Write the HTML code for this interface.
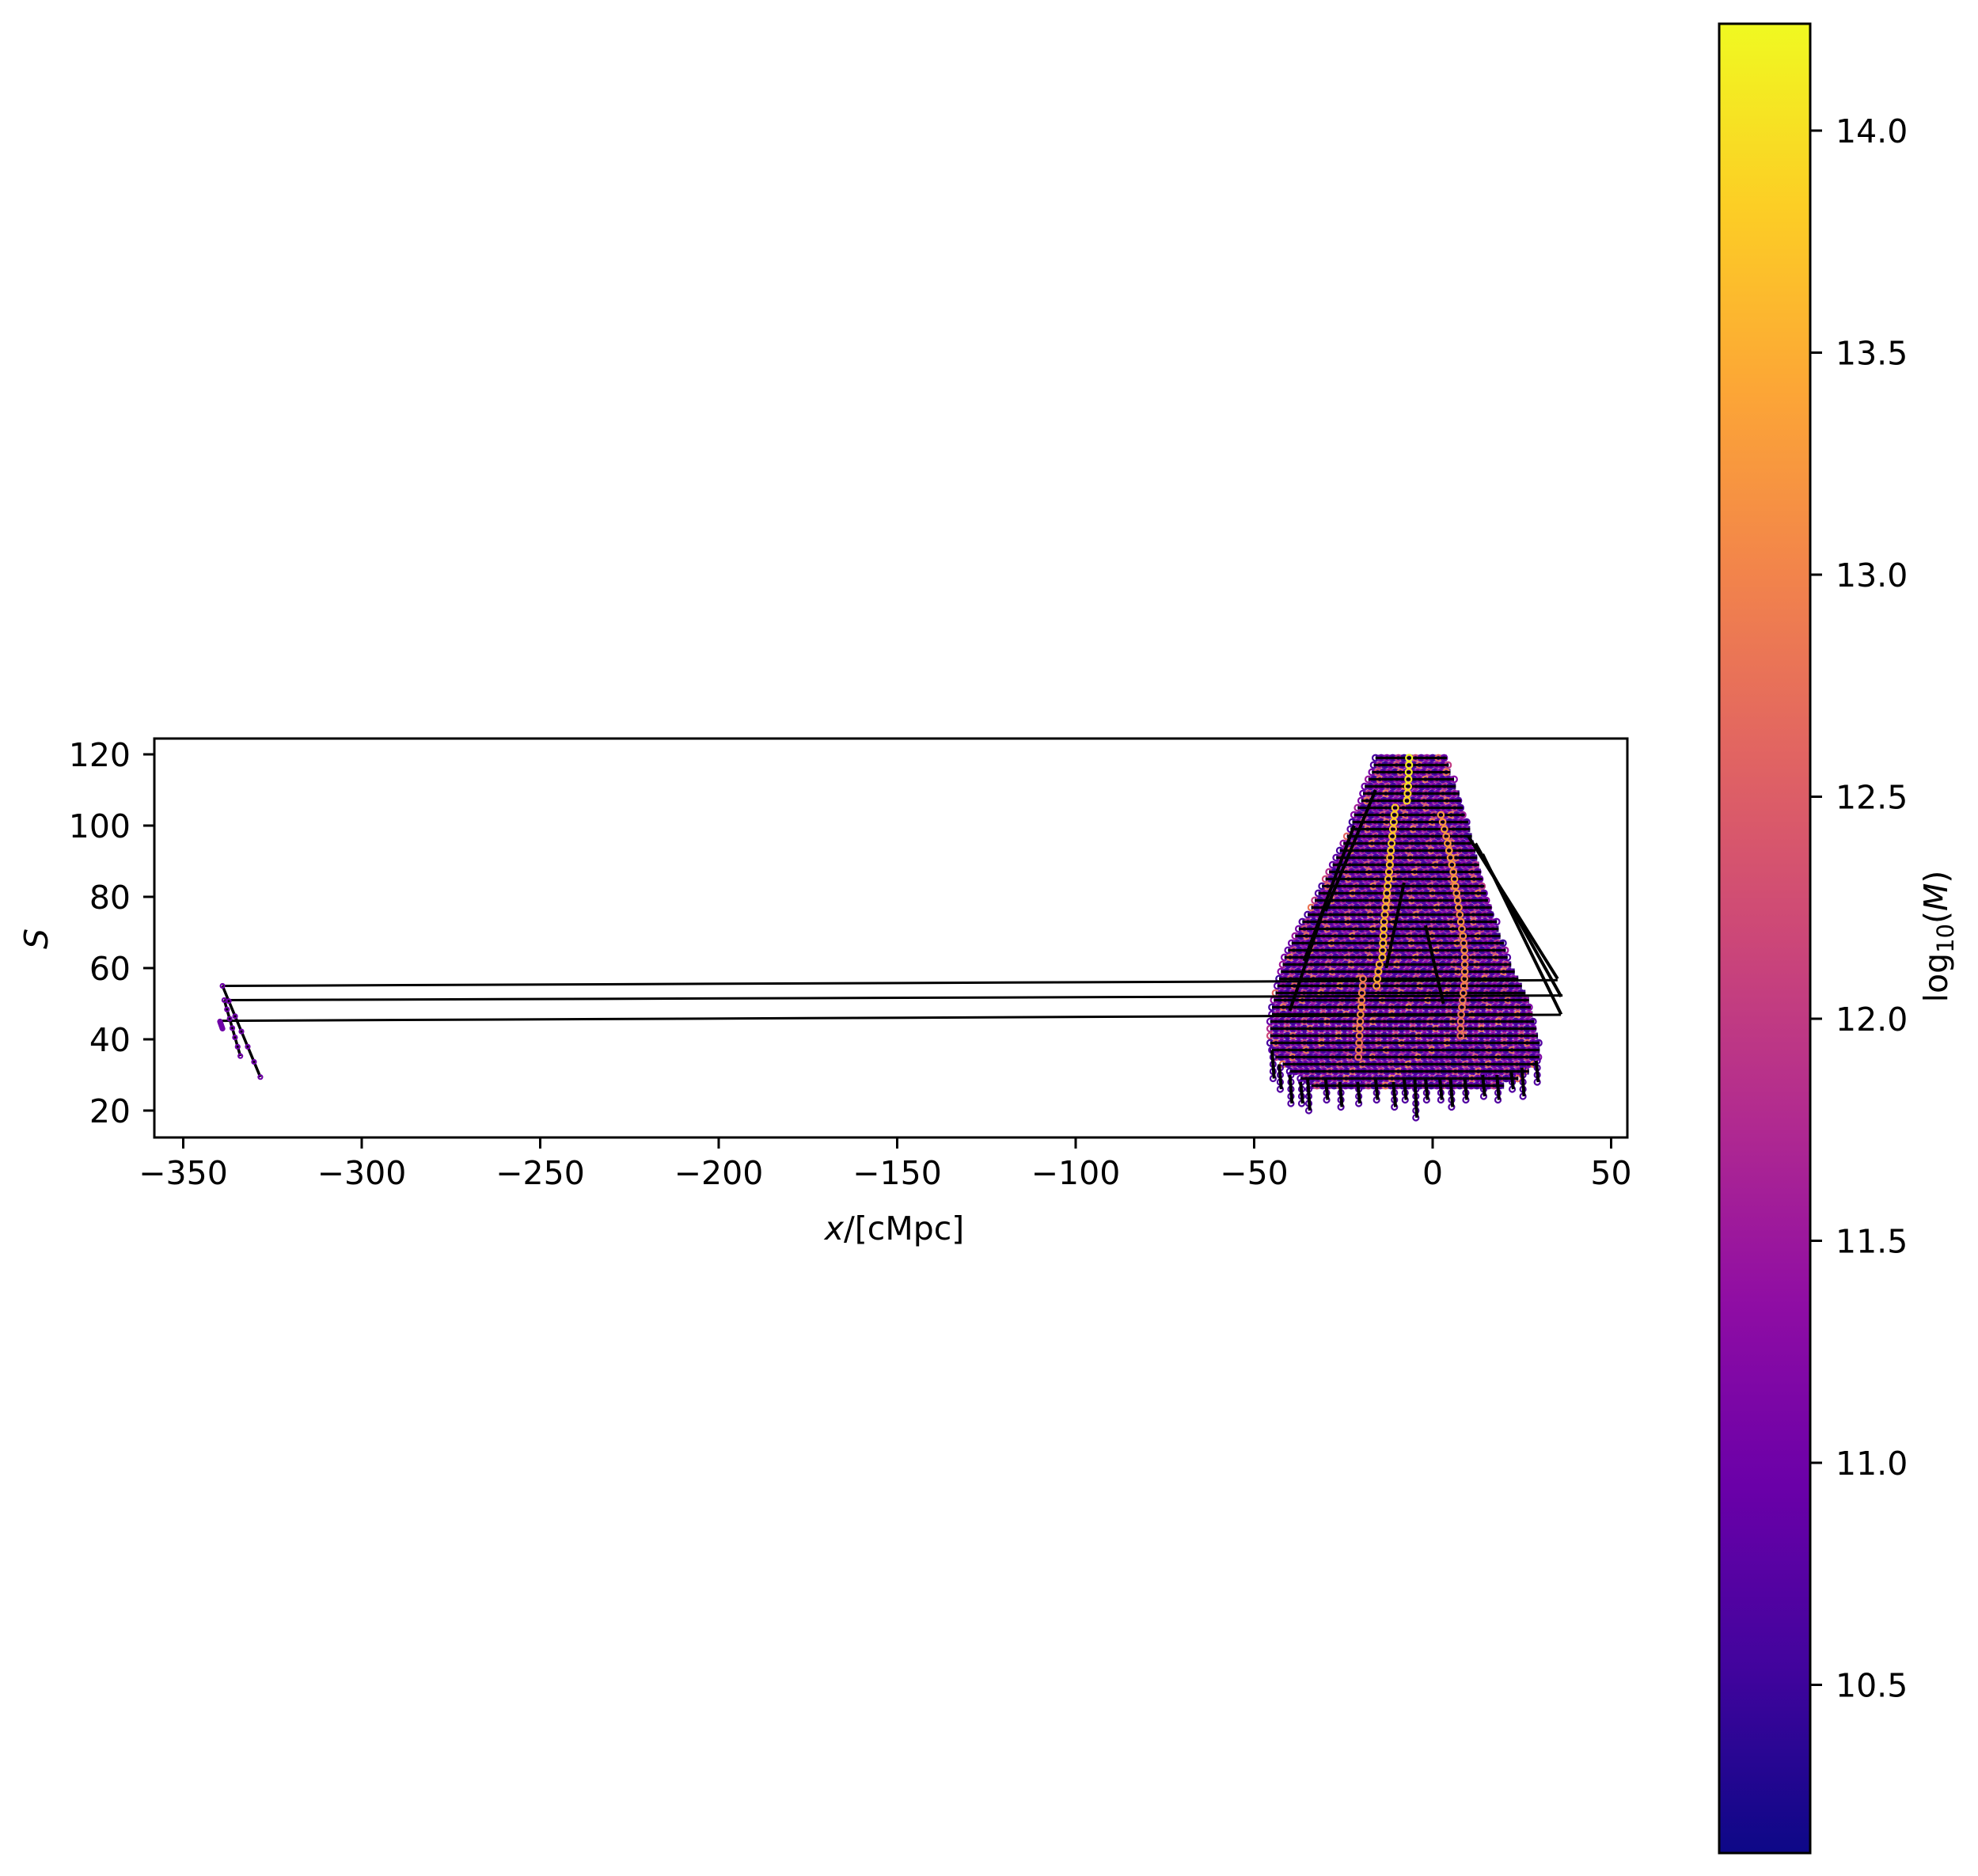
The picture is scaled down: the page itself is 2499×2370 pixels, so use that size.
<!DOCTYPE html>
<html><head><meta charset="utf-8"><style>
html,body{margin:0;padding:0;background:#fff}
svg{display:block}
text{font-family:"DejaVu Sans","Liberation Sans",sans-serif;fill:#000}
</style></head><body>
<svg id="chart" width="2499" height="2370" viewBox="0 0 2499 2370" xmlns="http://www.w3.org/2000/svg">
<defs>
<linearGradient id="plasma" x1="0" y1="1" x2="0" y2="0">
<stop offset="0" stop-color="#0d0887"/><stop offset="0.1" stop-color="#41049d"/><stop offset="0.2" stop-color="#6a00a8"/><stop offset="0.3" stop-color="#8f0da4"/><stop offset="0.4" stop-color="#b12a90"/><stop offset="0.5" stop-color="#cc4778"/><stop offset="0.6" stop-color="#e16462"/><stop offset="0.7" stop-color="#f2844b"/><stop offset="0.8" stop-color="#fca636"/><stop offset="0.9" stop-color="#fcce25"/><stop offset="1" stop-color="#f0f921"/>
</linearGradient>
<clipPath id="plotclip"><rect x="195" y="933" width="1861" height="504"/></clipPath>
</defs>
<g clip-path="url(#plotclip)">
<g id="bands"></g>
<g id="dots"></g>
<g id="lines"></g>
<g id="bright"></g>
</g>
<rect x="195" y="933" width="1861" height="504" fill="none" stroke="#000" stroke-width="3"/>
<g id="axes"></g>
<rect x="2172" y="30" width="115" height="2311" fill="url(#plasma)" stroke="#000" stroke-width="3"/>
<text x="1130" y="1566" font-size="41" text-anchor="middle"><tspan font-style="italic">x</tspan>/[cMpc]</text>
<text x="0" y="0" font-size="41" text-anchor="middle" transform="translate(60,1186) rotate(-90)" font-style="italic">S</text>
<text x="0" y="0" font-size="41" text-anchor="middle" transform="translate(2460,1183) rotate(-90)">log<tspan font-size="29" dy="8">10</tspan><tspan dy="-8">(</tspan><tspan font-style="italic">M</tspan>)</text>
</svg>
<script>
const xTicks=[-350,-300,-250,-200,-150,-100,-50,0,50];
const yTicks=[20,40,60,80,100,120];
const cTicks=[10.5,11.0,11.5,12.0,12.5,13.0,13.5,14.0];
const rowS=[119,117,115,113,111,109,107,105,103,101,99,97,95,93,91,89,87,85,83,81,79,77,75,73,71,69,67,65,63,61,59,57,55,53,51,49,47,45,43,41,39,37,35,33,31,29,27];
const rowXmin=[-16,-16.5,-17,-18,-19,-19.5,-20,-21,-22,-22.5,-23,-24,-25,-26,-27,-28,-29,-30,-31,-32,-33,-34,-35,-36.5,-37.5,-38.5,-39.5,-40.5,-41.5,-42,-42.5,-43,-43.5,-44,-44.5,-45,-45,-45.5,-45.5,-45.5,-45.5,-45,-44,-42,-40,-37,-34];
const rowXmax=[4,4.5,5,6,6.5,7.5,8,8.5,9,10,10.5,11,11.5,12,12.5,13,13.5,14,14.5,15,15.5,16.5,17,18,18.5,19,20,20.5,21,22,23,24,25,26,27,27.5,28,28.5,29,29.5,30,30,30,29,27,24,20];
const massPattern=[10.6,10.9,11.3,10.7,11.8,10.5,11.1,12.2,10.8,11.5,10.6,12.6,11.0,10.7,11.4,10.9,12.0,10.6,11.2,12.8,10.8,11.6];
const yellowS=[119,117,115,113,111,109,107,105,103,101,99,97,95,93,91,89,87,85,83,81,79,77,75,73,71,69,67,65,63,61,59,57,55];
const yellowX=[-6.6,-6.6,-6.7,-6.8,-6.9,-7.0,-7.2,-10.5,-10.7,-10.9,-11.1,-11.3,-11.5,-11.7,-11.9,-12.0,-12.2,-12.4,-12.6,-12.8,-13.0,-13.2,-13.4,-13.6,-13.7,-13.8,-13.9,-14.0,-14.1,-14.9,-15.2,-15.5,-15.7];
const yellowM=[14.2,14.1,14.1,14.0,14.0,13.9,13.9,13.8,13.8,13.8,13.7,13.7,13.7,13.7,13.6,13.6,13.6,13.6,13.6,13.6,13.5,13.5,13.5,13.5,13.6,13.6,13.6,13.6,13.6,13.4,13.4,13.4,13.3];
const orangeS=[103,101,99,97,95,93,91,89,87,85,83,81,79,77,75,73,71,69,67,65,63,61,59,57,55,53,51,49,47,45,43,41];
const orangeX=[2.3,2.8,3.3,3.8,4.2,4.6,5.0,5.4,5.8,6.1,6.4,6.7,7.0,7.3,7.6,7.9,8.2,8.5,8.7,8.9,9.0,9.0,9.0,8.9,8.8,8.6,8.4,8.2,8.0,7.9,7.8,7.8];
const orangeM=[13.2,13.2,13.3,13.2,13.3,13.3,13.2,13.3,13.2,13.3,13.2,13.2,13.1,13.2,13.1,13.2,13.1,13.1,13.0,13.1,13.0,13.0,13.1,13.0,12.9,13.0,12.9,12.9,12.8,12.8,12.8,12.7];
const pinkS=[57,55,53,51,49,47,45,43,41,39,37,35];
const pinkX=[-19.5,-19.6,-19.8,-19.9,-20.0,-20.2,-20.3,-20.4,-20.5,-20.6,-20.7,-20.8];
const pinkM=[12.9,12.9,13.0,13.0,13.1,13.1,13.0,13.0,12.9,12.9,12.8,12.8];
const tailX=[-45,-43,-40,-37,-35,-30,-26,-21,-16,-11,-8,-5,-2,2,5,9,14,18,22,25,29];
const tailTopS=[37,33,30,28,29,29,28,28,29,28,29,29,29,29,29,29,30,30,31,32,34];
const tailEndS=[29,26,22,22,20,23,21,22,23,21,23,18,23,23,21,23,24,23,26,24,28];
const slantX1=[-22,-16,-8,10,12,14,-30,-2];
const slantS1=[100,110,84,97,95,92,78,72];
const slantX2=[-36,-30,-13,35,36,36,-40,3];
const slantS2=[62,76,60,57,52,47,48,50];
const longX1=[-339,-338.5,-339.7];
const longS1=[55,51,45.2];
const longX2=[35,36.4,35.9];
const longS2=[56.6,52.3,46.9];
const sideX1=[-339,-338.5,-339.7];
const sideS1=[55,51,45];
const sideX2=[-328.4,-334,-339];
const sideS2=[29.4,35.3,43];

const NS='http://www.w3.org/2000/svg';
const X=v=>1810+v*4.51;
const Y=v=>1403-(v-20)*4.5;
const C=v=>165+(14-v)*561;
const cmin=10.12,cmax=14.24;
const stops=[[13,8,135],[65,4,157],[106,0,168],[143,13,164],[177,42,144],[204,71,120],[225,100,98],[242,132,75],[252,166,54],[252,206,37],[240,249,33]];
function cmap(v){let t=(v-cmin)/(cmax-cmin);t=Math.max(0,Math.min(1,t))*10;const i=Math.min(9,Math.floor(t)),f=t-i;const a=stops[i],b=stops[i+1];return 'rgb('+a.map((c,k)=>Math.round(c+(b[k]-c)*f)).join(',')+')';}
function mk(tag,attrs,parent){const e=document.createElementNS(NS,tag);for(const k in attrs)e.setAttribute(k,attrs[k]);parent.appendChild(e);return e;}
const bands=document.getElementById('bands'),dots=document.getElementById('dots'),lines=document.getElementById('lines'),bright=document.getElementById('bright'),axes=document.getElementById('axes');
function dot(g,x,s,m,r){const c=mk('circle',{cx:X(x),cy:Y(s),r:r||3.8,fill:'none',stroke:cmap(m),'stroke-width':2.2},g);

}
for(let i=0;i<rowS.length;i++){
  const bg=mk('line',{x1:X(rowXmin[i]),y1:Y(rowS[i]),x2:X(rowXmax[i]),y2:Y(rowS[i]),stroke:'#3a0680','stroke-width':8},bands);
  
  
  let j=0;
  for(let x=rowXmin[i];x<=rowXmax[i];x+=1.6){dot(dots,x,rowS[i],massPattern[(i*3+j)%massPattern.length]);j++;}
  const ln=mk('line',{x1:X(rowXmin[i]),y1:Y(rowS[i]),x2:X(rowXmax[i]),y2:Y(rowS[i]),stroke:'#000','stroke-width':3},lines);
  
  
}
for(let i=0;i<tailX.length;i++){
  const t=mk('line',{x1:X(tailX[i]),y1:Y(tailTopS[i]),x2:X(tailX[i]+0.6),y2:Y(tailEndS[i]),stroke:'#000','stroke-width':4},lines);
  
  
  for(let s=tailEndS[i];s<=tailTopS[i];s+=2)dot(dots,tailX[i]+0.3,s,10.7,3.5);
}
for(let i=0;i<slantX1.length;i++){
  const t=mk('line',{x1:X(slantX1[i]),y1:Y(slantS1[i]),x2:X(slantX2[i]),y2:Y(slantS2[i]),stroke:'#000','stroke-width':4},lines);
  
  
}
for(let i=0;i<longX1.length;i++){
  const l=mk('line',{x1:X(longX1[i]),y1:Y(longS1[i]),x2:X(longX2[i]),y2:Y(longS2[i]),stroke:'#000','stroke-width':3},lines);
  
  
  const s=mk('line',{x1:X(sideX1[i]),y1:Y(sideS1[i]),x2:X(sideX2[i]),y2:Y(sideS2[i]),stroke:'#000','stroke-width':3.5},lines);
  
  
  for(let k=0;k<=6;k++){const f=k/6;dot(bright,sideX1[i]+(sideX2[i]-sideX1[i])*f,sideS1[i]+(sideS2[i]-sideS1[i])*f,11.0,2.5);}
}
for(let i=0;i<pinkS.length;i++)dot(bright,pinkX[i],pinkS[i],pinkM[i],3.8);
for(let i=0;i<orangeS.length;i++)dot(bright,orangeX[i],orangeS[i],orangeM[i],3.8);
for(let i=0;i<yellowS.length;i++)dot(bright,yellowX[i],yellowS[i],yellowM[i],4);
xTicks.forEach(v=>{
  const t=mk('line',{x1:X(v),y1:1437,x2:X(v),y2:1451,stroke:'#000','stroke-width':3},axes);
  
  
  const l=mk('text',{x:X(v),y:1496,'font-size':41,'text-anchor':'middle'},axes);
  l.textContent=(v<0?'\u2212':'')+Math.abs(v);
  
  
});
yTicks.forEach(v=>{
  const t=mk('line',{x1:181,y1:Y(v),x2:195,y2:Y(v),stroke:'#000','stroke-width':3},axes);
  
  
  const l=mk('text',{x:165,y:Y(v)+15,'font-size':41,'text-anchor':'end'},axes);
  l.textContent=v;
  
  
});
cTicks.forEach(v=>{
  const t=mk('line',{x1:2287,y1:C(v),x2:2302,y2:C(v),stroke:'#000','stroke-width':3},axes);
  
  
  const l=mk('text',{x:2319,y:C(v)+15,'font-size':41},axes);
  l.textContent=v.toFixed(1);
  
  
});
</script>
</body></html>
